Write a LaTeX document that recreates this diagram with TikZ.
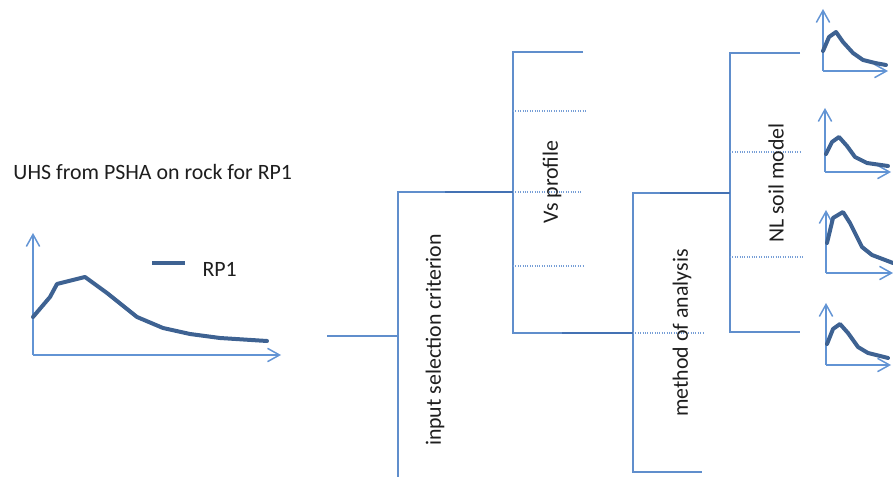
\documentclass[tikz,border=0pt]{standalone}
\usepackage{fontspec}
\setmainfont{Carlito}
\usetikzlibrary{arrows.meta}

\definecolor{axisblue}{RGB}{98,148,212}
\definecolor{treeblue}{RGB}{96,142,204}
\definecolor{linkblue}{RGB}{68,114,180}
\definecolor{curveblue}{RGB}{62,98,146}
\definecolor{dotblue}{RGB}{118,158,214}
\definecolor{textgrey}{RGB}{30,30,30}

\tikzset{every picture/.style={line width=0.75pt}}
\tikzset{
  axis/.style={draw=axisblue, line width=1.1pt, -{Straight Barb[length=9pt,width=10pt,line width=1.1pt]}},
  spectrum/.style={draw=curveblue, line width=3pt, line join=round, line cap=round},
  branch/.style={draw=treeblue, line width=1.5pt},
  link/.style={draw=linkblue, line width=1.6pt},
  alt/.style={draw=dotblue, line width=0.8pt, densely dotted},
  label/.style={font=\fontsize{16.4}{19}\selectfont, text=textgrey, inner sep=0pt},
  vlabel/.style={label, rotate=90, anchor=center}
}

\begin{document}
\begin{tikzpicture}[x=0.75pt,y=0.75pt,yscale=-1,xscale=1]
\useasboundingbox (0,0) rectangle (893,477);

% Rock UHS chart
\node[label, anchor=base west] (title) at (13,180) {UHS from PSHA on rock for RP1};
\coordinate (o) at (33,355);
\draw[axis] (o) -- (33,233);
\draw[axis] (o) -- (281,355);
\draw[spectrum] (33,317) -- (50,297) -- (57,284) -- (85,277) -- (107,293) -- (137,317) -- (163,328) -- (190,334) -- (220,338) -- (267,341);
% legend
\coordinate (key a) at (152,263);
\coordinate (key b) at (185,263);
\draw[spectrum, line cap=butt] (key a) -- (key b);
\node[label, anchor=base west] (rp) at (202,277) {RP1};

% Tree: input selection criterion
\coordinate (root) at (327,336);
\coordinate (isc) at (398,336);
\coordinate (isc top) at (398,192);
\coordinate (isc bot) at (398,477);
\draw[branch] (root) -- (isc);
\draw[branch] (isc bot) -- (isc top) -- (513,192);
\node[vlabel] (isc label) at (435,340) {input selection criterion};

% Tree: Vs profile
\coordinate (vs) at (513,192);
\coordinate (vs top) at (513,52);
\coordinate (vs bot) at (513,333);
\draw[branch] (583,52) -- (vs top) -- (vs bot) -- (633,333);
\draw[alt] (vs) -- (582,192);
\draw[alt] (513,111) -- (586,111);
\draw[alt] (513,266) -- (583,266);
\node[vlabel] (vs label) at (552,182) {Vs profile};

% Tree: method of analysis
\coordinate (moa) at (633,333);
\coordinate (moa top) at (633,193);
\coordinate (moa bot) at (633,472);
\draw[branch] (730,193) -- (moa top) -- (moa bot) -- (702,472);
\draw[alt] (moa) -- (703,333);
\node[vlabel] (moa label) at (682,333) {method of analysis};

% Tree: NL soil model
\coordinate (nl) at (730,193);
\coordinate (nl top) at (730,53);
\coordinate (nl bot) at (730,332);
\draw[branch] (800,53) -- (nl top) -- (nl bot) -- (800,332);
\draw[alt] (730,152) -- (800,152);
\draw[alt] (730,257) -- (803,257);
\node[vlabel] (nl label) at (776,183) {NL soil model};

% links between the levels
\draw[link] (445,192) -- (vs);
\draw[link] (562,333) -- (moa);
\draw[link] (660,193) -- (nl);

% Site spectra, one per soil model
\coordinate (o1) at (823,71);
\draw[axis] (o1) -- (823,9);
\draw[axis] (o1) -- (888,71);
\draw[spectrum] (823,51) -- (829,37) -- (836,32) -- (843,42) -- (853,53) -- (863,60) -- (875,63) -- (886,65);

\coordinate (o2) at (825,172);
\draw[axis] (o2) -- (825,108);
\draw[axis] (o2) -- (891,172);
\draw[spectrum] (826,154) -- (832,142) -- (839,137) -- (847,146) -- (855,157) -- (867,163) -- (888,166);

\coordinate (o3) at (826,273);
\draw[axis] (o3) -- (826,210);
\draw[axis] (o3) -- (893,273);
\draw[spectrum] (827,243) -- (833,218) -- (843,212) -- (850,223) -- (862,247) -- (872,255) -- (893,263);

\coordinate (o4) at (826,365);
\draw[axis] (o4) -- (826,303);
\draw[axis] (o4) -- (891,365);
\draw[spectrum] (827,344) -- (833,329) -- (840,324) -- (848,333) -- (858,347) -- (868,353) -- (888,358);

\end{tikzpicture}
\end{document}
